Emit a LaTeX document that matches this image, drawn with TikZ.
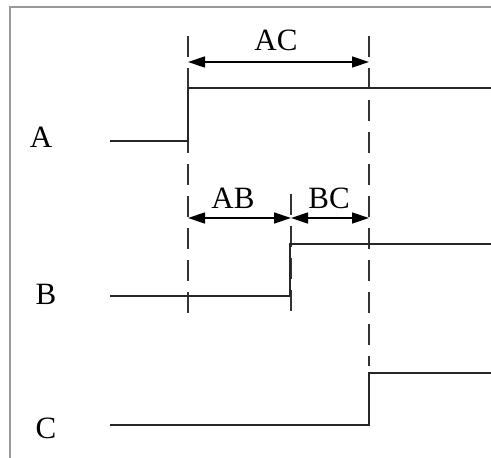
\documentclass[tikz,border=0pt]{standalone}
\usepackage{fontspec}
\setmainfont{Liberation Serif}
\usetikzlibrary{arrows.meta}
\begin{document}
\begin{tikzpicture}[x=1pt,y=-1pt,
  frameline/.style={draw=gray!80,line width=1.2pt},
  sig/.style={draw=black!85,line width=1.4pt},
  guide/.style={draw=black!80,line width=1.2pt,dash pattern=on 21pt off 11pt},
  dim/.style={draw=black,line width=1.4pt,{Triangle[length=17pt,width=11pt]}-{Triangle[length=17pt,width=11pt]}},
  lbl/.style={font=\fontsize{31}{36}\selectfont,inner sep=0pt}]
\useasboundingbox (0,0) rectangle (491,458);
\fill[white] (0,0) rectangle (491,458);
% frame
\draw[frameline] (10,458) -- (10,7) -- (491,7);
% guides
\coordinate (g1t) at (188,36); \coordinate (g1b) at (188,322);
\coordinate (g2t) at (369,36); \coordinate (g2b) at (369,366);
\coordinate (g3t) at (291,194); \coordinate (g3b) at (291,312);
\draw[guide] (g1t) -- (g1b);
\draw[guide] (g2t) -- (g2b);
\draw[guide] (g3t) -- (g3b);
% dimension arrows
\coordinate (acl) at (188,62); \coordinate (acr) at (369,62);
\draw[dim] (acl) -- (acr);
\node[lbl] (AC) at (276,40) {AC};
\coordinate (abl) at (188,218); \coordinate (abr) at (291,218);
\coordinate (bcr) at (369,218);
\draw[dim] (abl) -- (abr);
\draw[dim] (abr) -- (bcr);
\node[lbl] (AB) at (233,198) {AB};
\node[lbl] (BC) at (329,198) {BC};
% signal A
\node[lbl] (A) at (41,137) {A};
\coordinate (a0) at (110,141); \coordinate (a1) at (188,141);
\coordinate (a2) at (188,88); \coordinate (a3) at (491,88);
\draw[sig] (a0) -- (a1) -- (a2) -- (a3);
% signal B
\node[lbl] (B) at (46,294) {B};
\coordinate (b0) at (110,296); \coordinate (b1) at (290,296);
\coordinate (b2) at (290,244); \coordinate (b3) at (491,244);
\draw[sig] (b0) -- (b1) -- (b2) -- (b3);
% signal C
\node[lbl] (C) at (46,428) {C};
\coordinate (c0) at (110,425); \coordinate (c1) at (369,425);
\coordinate (c2) at (369,373); \coordinate (c3) at (491,373);
\draw[sig] (c0) -- (c1) -- (c2) -- (c3);
\end{tikzpicture}
\end{document}
